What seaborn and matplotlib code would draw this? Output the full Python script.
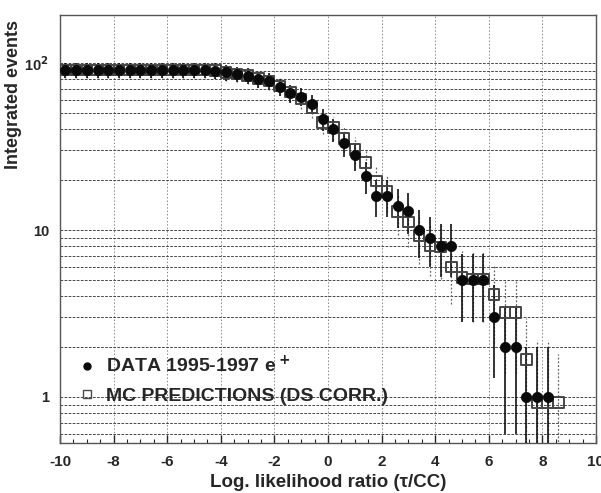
import numpy as np
import pandas as pd
import matplotlib
matplotlib.use("Agg")
import matplotlib.pyplot as plt
import matplotlib.ticker as mticker
from matplotlib.lines import Line2D
import seaborn as sns

# ---- data ----
x_bins = [-9.8, -9.4, -9.0, -8.6, -8.2, -7.8, -7.4, -7.0, -6.6, -6.2, -5.8, -5.4,
          -5.0, -4.6, -4.2, -3.8, -3.4, -3.0, -2.6, -2.2, -1.8, -1.4, -1.0, -0.6,
          -0.2, 0.2, 0.6, 1.0, 1.4, 1.8, 2.2, 2.6, 3.0, 3.4, 3.8, 4.2, 4.6, 5.0,
          5.4, 5.8, 6.2, 6.6, 7.0, 7.4, 7.8, 8.2, 8.6]

data_counts = [91, 91, 91, 91, 91, 91, 91, 91, 91, 91, 91, 91,
               91, 91, 90, 88, 86, 84, 80, 78, 72, 66, 63, 57,
               46, 40, 33, 28, 21, 16, 16, 14, 13, 10, 9, 8, 8, 5,
               5, 5, 3, 2, 2, 1, 1, 1]
data_err = [9.5, 9.5, 9.5, 9.5, 9.5, 9.5, 9.5, 9.5, 9.5, 9.5, 9.5, 9.5,
            9.5, 9.5, 9.5, 9.4, 9.3, 9.2, 8.9, 8.8, 8.5, 8.1, 7.9, 7.5,
            6.8, 6.3, 5.7, 5.3, 4.6, 4.0, 4.0, 3.7, 3.6, 3.2, 3.0, 2.8, 2.8, 2.2,
            2.2, 2.2, 1.7, 1.4, 1.4, 0.999, 0.999, 0.999]

mc_counts = [91, 91, 91, 91, 91, 91, 91, 91, 91, 91, 91, 91,
             91, 91, 90, 88, 86, 84, 81, 78, 73, 67, 61, 54,
             44, 41, 35.4, 30.4, 25.3, 19.7, 17, 12.9, 11.2, 9.3, 8.1, 7.9, 6.0, 5.2,
             5.1, 5.1, 4.1, 3.2, 3.2, 1.67, 0.93, 0.93, 0.93]
mc_err = [9.5, 9.5, 9.5, 9.5, 9.5, 9.5, 9.5, 9.5, 9.5, 9.5, 9.5, 9.5,
          9.5, 9.5, 9.5, 9.4, 9.3, 9.2, 9.0, 8.8, 8.5, 8.2, 7.8, 7.3,
          6.6, 6.4, 5.9, 5.5, 5.0, 4.4, 4.1, 3.6, 3.3, 3.0, 2.8, 2.8, 2.4, 2.3,
          2.3, 2.3, 2.0, 1.8, 1.8, 1.3, 1.27, 1.27, 0.87]

x_ticks = [-10, -8, -6, -4, -2, 0, 2, 4, 6, 8, 10]
y_ticks = [1, 10, 100]
y_tick_labels = ["1", "10", "10$^{\\mathbf{2}}$"]

legend_data = "DATA 1995-1997 e$^{\\bf +}$"
legend_mc = "MC PREDICTIONS (DS CORR.)"
x_label = "Log. likelihood ratio (\u03c4/CC)"
y_label = "Integrated events"

# ---- frames ----
df_data = pd.DataFrame({"x": x_bins[:len(data_counts)], "y": data_counts, "err": data_err})
df_mc = pd.DataFrame({"x": x_bins, "y": mc_counts, "err": mc_err})

sns.set_theme(style="white")
plt.rcParams["font.family"] = ["Liberation Sans", "DejaVu Sans"]
plt.rcParams["font.weight"] = "bold"
plt.rcParams["mathtext.default"] = "bf"
plt.rcParams["axes.unicode_minus"] = False

fig = plt.figure(figsize=(6.01, 4.93), dpi=100)
ax = fig.add_axes([60 / 601, 1 - 443 / 493, 536 / 601, 428 / 493])
ax.set_yscale("log")
ax.set_xlim(-10, 10)
ax.set_ylim(0.53, 194)

# grid
ax.yaxis.set_major_locator(mticker.FixedLocator(y_ticks))
ax.yaxis.set_minor_locator(mticker.LogLocator(base=10, subs=np.arange(2, 10)))
ax.yaxis.set_minor_formatter(mticker.NullFormatter())
ax.set_yticklabels(y_tick_labels)
ax.xaxis.set_major_locator(mticker.FixedLocator(x_ticks))
ax.xaxis.set_minor_locator(mticker.MultipleLocator(0.5))
ax.grid(True, which="both", axis="y", color="#3a3a3a", linestyle=(0, (3, 1.5)), linewidth=0.65)
ax.grid(True, which="major", axis="x", color="#888888", linestyle=(0, (1.5, 2)), linewidth=0.7)
ax.set_axisbelow(True)

# error bars
eb = ax.errorbar(df_mc["x"], df_mc["y"], yerr=df_mc["err"], fmt="none",
                 ecolor="#666666", elinewidth=0.9, zorder=2)
for coll in eb[2]:
    coll.set_linestyle((0, (1.5, 1.5)))
ax.errorbar(df_data["x"], df_data["y"], yerr=df_data["err"], fmt="none",
            ecolor="#111111", elinewidth=1.2, zorder=3)

# markers via seaborn
sns.scatterplot(data=df_mc, x="x", y="y", ax=ax, marker="s", s=58,
                facecolor="none", edgecolor="#454545", linewidth=1.4, zorder=4)
sns.scatterplot(data=df_data, x="x", y="y", ax=ax, marker="o", s=55,
                color="#0a0a0a", edgecolor="#0a0a0a", linewidth=0.5, zorder=5)

ax.set_xlabel(x_label, fontsize=13.5, fontweight="bold")
ax.set_ylabel(y_label, fontsize=13, fontweight="bold")
ax.xaxis.set_label_coords(0.5, -0.072)
ax.yaxis.set_label_coords(-0.07, 0.815)

ax.tick_params(axis="x", which="major", direction="in", length=6, width=1,
               labelsize=11, pad=9, bottom=True, top=False)
ax.tick_params(axis="x", which="minor", direction="in", length=3, width=0.8,
               bottom=True, top=False)
ax.tick_params(axis="y", which="both", direction="in", length=0, labelsize=10.5, pad=8)
for lab in ax.get_xticklabels() + ax.get_yticklabels():
    lab.set_fontweight("bold")

for s in ax.spines.values():
    s.set_color("#555555")
    s.set_linewidth(1.0)

handles = [
    Line2D([0], [0], marker="o", linestyle="none", markersize=5,
           markerfacecolor="#0a0a0a", markeredgecolor="#0a0a0a"),
    Line2D([0], [0], marker="s", linestyle="none", markersize=5.5,
           markerfacecolor="none", markeredgecolor="#4a4a4a", markeredgewidth=1.0),
]
leg = ax.legend(handles, [legend_data, legend_mc], loc="lower left",
                bbox_to_anchor=(0.018, 0.071), frameon=False, handletextpad=0.45,
                labelspacing=0.55, prop={"size": 14, "weight": "bold"},
                handlelength=1.0, borderaxespad=0)

fig.savefig("out.png", dpi=100)
